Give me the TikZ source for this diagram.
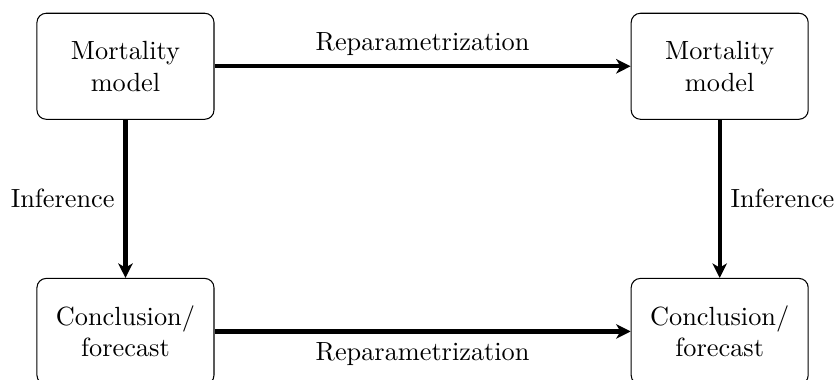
\documentclass[tikz,border=0pt]{standalone}
\usetikzlibrary{arrows.meta}
\begin{document}
\begin{tikzpicture}[x=1pt,y=1pt,
  stage/.style={draw, rounded corners=3.5pt, thin, align=center,
    minimum width=67.3pt, minimum height=40.3pt, inner sep=2pt},
  flow/.style={-{Stealth[length=5.5pt,width=5.5pt,inset=1.6pt]}, line width=1.6pt}]
  \useasboundingbox (0,0) rectangle (318.2,144.1);
  \node[stage] (m1) at (47.7,118.9) {Mortality\\model};
  \node[stage] (m2) at (273.6,118.9) {Mortality\\model};
  \node[stage] (c1) at (47.7,18.1) {Conclusion/\\forecast};
  \node[stage] (c2) at (273.6,18.1) {Conclusion/\\forecast};
  \draw[flow] (m1) -- node[above] {Reparametrization} (m2);
  \draw[flow] (c1) -- node[below] {Reparametrization} (c2);
  \draw[flow] (m1) -- node[left] {Inference} (c1);
  \draw[flow] (m2) -- node[right] {Inference} (c2);
\end{tikzpicture}
\end{document}
